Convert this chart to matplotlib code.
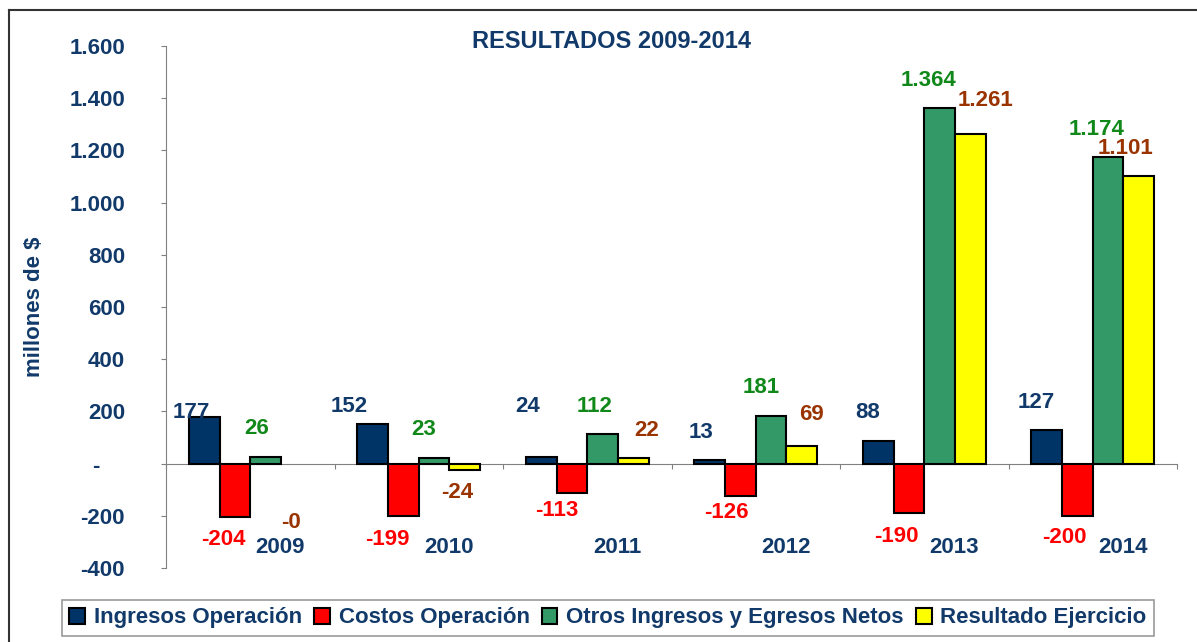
import matplotlib
matplotlib.use('Agg')
from matplotlib import pyplot as plt
from matplotlib.lines import Line2D
import numpy as np

plt.rcParams['font.family'] = ['Liberation Sans', 'DejaVu Sans']
plt.rcParams['font.weight'] = 'bold'

# Data (millones de $)
years = ['2009', '2010', '2011', '2012', '2013', '2014']
ingresos_op = [177, 152, 24, 13, 88, 127]
costos_op = [-204, -199, -113, -126, -190, -200]
otros_netos = [26, 23, 112, 181, 1364, 1174]
resultado = [-0.3, -24, 22, 69, 1261, 1101]

series_names = ['Ingresos Operación', 'Costos Operación',
                'Otros Ingresos y Egresos Netos', 'Resultado Ejercicio']
y_ticks = [-400, -200, 0, 200, 400, 600, 800, 1000, 1200, 1400, 1600]

# Styles
bar_colors = ['#003366', '#FF0000', '#339966', '#FFFF00']
label_colors = ['#113A6A', '#FF0000', '#11881A', '#993300']
navy = '#113A6A'

# Hand-placed data label layout (as in the original sheet):
# y of label centre in data units, x nudge in pixels
label_y = [
    [196, 219, 219, 119, 196, 235],
    [-292, -292, -181, -188, -281, -285],
    [135, 131, 219, 292, 1469, 1281],
    [-227, -112, 127, 188, 1392, 1208],
]
label_dx = [
    [-13, -24, -14, -9, -11, -10],
    [-12, -16, -15, -14, -13, -13],
    [-9, -10, -8, -10, -11, -12],
    [-5, -8, 13, 10, 15, -13],
]


def fmt_num(v):
    """Excel-like format: '.' as thousands separator, keep the sign of -0."""
    s = '{:,}'.format(int(round(abs(v)))).replace(',', '.')
    return '-' + s if v < 0 else s


def fmt_tick(v):
    if v == 0:
        return '-    '
    return fmt_num(v)


fig = plt.figure(figsize=(11.97, 6.42), dpi=100)
ax = fig.add_axes([166 / 1197, 1 - 568 / 642, 1011 / 1197, 522 / 642])

x = np.arange(len(years))
width = 0.182
all_series = [ingresos_op, costos_op, otros_netos, resultado]

for k, vals in enumerate(all_series):
    pos = x + (k - 1.5) * width
    lws = [0 if abs(v) < 1 else 1.5 for v in vals]
    ax.bar(pos, vals, width, color=bar_colors[k], edgecolor='black',
           linewidth=lws, zorder=3, label=series_names[k])
    for i, v in enumerate(vals):
        ax.annotate(fmt_num(v), xy=(pos[i], label_y[k][i]),
                    xytext=(label_dx[k][i] * 0.72, 0), textcoords='offset points',
                    ha='center', va='center', fontsize=16, fontweight='bold',
                    color=label_colors[k], zorder=4)

# Year labels sit low, shifted to the right of the category centre
for i, yr in enumerate(years):
    ax.text(i + 0.178, -323, yr, ha='center', va='center', fontsize=16,
            fontweight='bold', color=navy)

ax.set_xlim(-0.5, len(years) - 0.5)
ax.set_ylim(-400, 1600)
ax.set_yticks(y_ticks)
ax.set_yticklabels([fmt_tick(t) for t in y_ticks])
ax.set_xticks(np.arange(len(years) + 1) - 0.5)
ax.set_xticklabels([])

for side in ['top', 'right']:
    ax.spines[side].set_visible(False)
ax.spines['left'].set_color('#808080')
ax.spines['bottom'].set_color('#808080')
ax.spines['bottom'].set_position(('data', 0))
ax.spines['bottom'].set_zorder(2)
ax.tick_params(axis='y', colors='#808080', labelcolor=navy, labelsize=16,
               length=3.6, pad=26)
ax.tick_params(axis='x', colors='#808080', length=3.6, direction='out')
for lbl in ax.get_yticklabels():
    lbl.set_fontweight('bold')

fig.text(611 / 1197, 1 - 41 / 642, 'RESULTADOS 2009-2014', ha='center',
         va='center', fontsize=17, fontweight='bold', color=navy)
fig.text(35 / 1197, 1 - 307 / 642, 'millones de $', ha='center', va='center',
         rotation=90, fontsize=16, fontweight='bold', color=navy)

leg = fig.legend(loc='center', bbox_to_anchor=(608 / 1197, 1 - 618 / 642),
                 ncol=4, frameon=True, fancybox=False, fontsize=16,
                 handlelength=0.7, handleheight=0.7, handletextpad=0.4,
                 columnspacing=0.55, borderpad=0.35, edgecolor='#808080')
leg.get_frame().set_linewidth(1.2)
for t in leg.get_texts():
    t.set_color(navy)
    t.set_fontweight('bold')
for h in leg.legend_handles:
    h.set_linewidth(1.5)
    h.set_edgecolor('black')

# Outer chart border (right and bottom edges fall outside the image)
fig.add_artist(Line2D([9 / 1197, 9 / 1197], [0, 1 - 10 / 642],
                      transform=fig.transFigure, color='#333333', lw=1.5))
fig.add_artist(Line2D([9 / 1197, 1], [1 - 10 / 642, 1 - 10 / 642],
                      transform=fig.transFigure, color='#333333', lw=1.5))

fig.savefig('out.png', dpi=100)
